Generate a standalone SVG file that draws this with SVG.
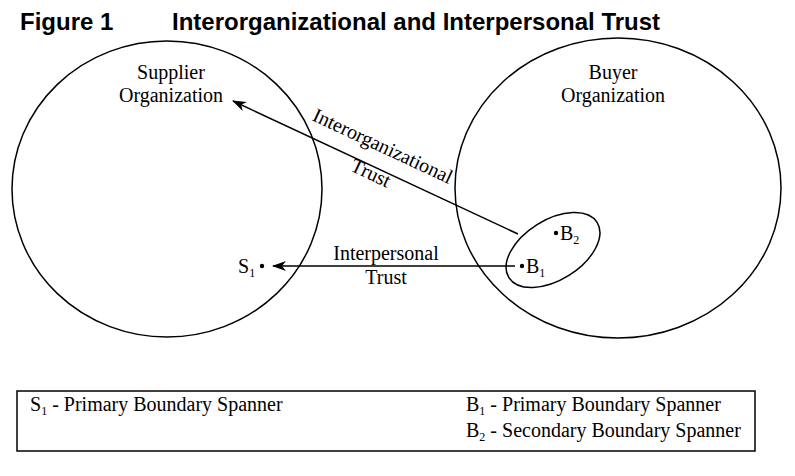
<svg xmlns="http://www.w3.org/2000/svg" width="795" height="476" viewBox="0 0 795 476">
<style>
.l{font-family:"Liberation Serif",serif;font-size:20px;fill:#000}
.h{font-family:"Liberation Sans",sans-serif;font-size:24px;font-weight:bold;fill:#000}
.s{fill:none;stroke:#000;stroke-width:1.5}
</style>
<defs><marker id="a" viewBox="0 0 14 10" refX="13" refY="5" markerWidth="14" markerHeight="10" markerUnits="userSpaceOnUse" orient="auto"><path d="M14,5 L0,0 L4,5 L0,10Z" fill="#000"/></marker></defs>
<rect width="795" height="476" fill="#fff"/>
<text class="h" x="20" y="30">Figure 1</text>
<text class="h" x="172" y="30">Interorganizational and Interpersonal Trust</text>
<g id="supplier">
<ellipse class="s" cx="167" cy="189" rx="155" ry="148"/>
<text class="l" x="171" y="79" text-anchor="middle">Supplier</text>
<text class="l" x="171" y="102" text-anchor="middle">Organization</text>
<circle cx="262" cy="266" r="2.2"/>
<text class="l" x="238" y="273">S<tspan font-size="12" dy="4">1</tspan></text>
</g>
<g id="buyer">
<ellipse class="s" cx="618" cy="188" rx="163" ry="150"/>
<text class="l" x="613" y="79" text-anchor="middle">Buyer</text>
<text class="l" x="613" y="102" text-anchor="middle">Organization</text>
</g>
<g id="spanners">
<ellipse class="s" cx="553" cy="250" rx="52" ry="30" transform="rotate(-32 553 250)"/>
<circle cx="556" cy="233" r="2.2"/>
<text class="l" x="560" y="240">B<tspan font-size="12" dy="4">2</tspan></text>
<circle cx="522" cy="266" r="2.2"/>
<text class="l" x="526" y="273">B<tspan font-size="12" dy="4">1</tspan></text>
</g>
<g id="connectors">
<line class="s" x1="518" y1="234" x2="233" y2="101" marker-end="url(#a)"/>
<line class="s" x1="515" y1="266" x2="273" y2="266" marker-end="url(#a)"/>
<text class="l" transform="translate(380,152) rotate(25)" text-anchor="middle">Interorganizational</text>
<text class="l" transform="translate(368,179) rotate(25)" text-anchor="middle">Trust</text>
<text class="l" x="386" y="260" text-anchor="middle">Interpersonal</text>
<text class="l" x="386" y="284" text-anchor="middle">Trust</text>
</g>
<g id="legend">
<rect x="17" y="391" width="738" height="60" fill="none" stroke="#000" stroke-width="1.5"/>
<text class="l" x="30" y="411">S<tspan font-size="12" dy="4">1</tspan><tspan dy="-4"> - Primary Boundary Spanner</tspan></text>
<text class="l" x="466" y="411">B<tspan font-size="12" dy="4">1</tspan><tspan dy="-4"> - Primary Boundary Spanner</tspan></text>
<text class="l" x="466" y="437">B<tspan font-size="12" dy="4">2</tspan><tspan dy="-4"> - Secondary Boundary Spanner</tspan></text>
</g>
</svg>
